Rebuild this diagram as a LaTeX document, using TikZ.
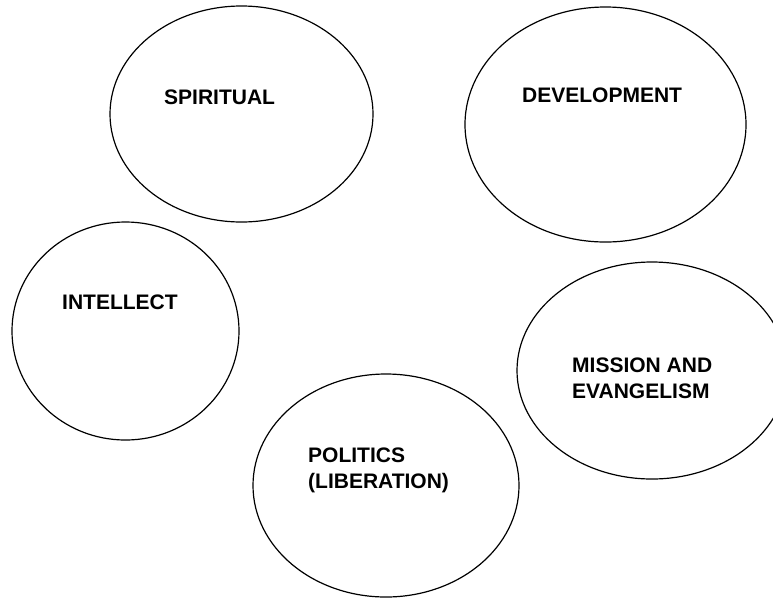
\documentclass[tikz,border=0pt]{standalone}
\usepackage{fontspec}
\setmainfont{Liberation Sans}
\usetikzlibrary{shapes.geometric}
\begin{document}
\begin{tikzpicture}[x=1pt,y=-1pt,
  bubble/.style={draw=black,line width=1.2pt,ellipse,inner sep=0pt},
  lab/.style={anchor=base west,inner sep=0pt,align=left,font=\bfseries\fontsize{21}{26}\selectfont}]
\useasboundingbox (0,0) rectangle (773,598);
\node[bubble,minimum width=263pt,minimum height=216pt] (spi) at (241.5,114) {};
\node[bubble,minimum width=281pt,minimum height=235pt] (dev) at (605.5,124.5) {};
\node[bubble,minimum width=227pt,minimum height=218pt] (int) at (125.5,331) {};
\node[bubble,minimum width=270pt,minimum height=217pt] (mis) at (652,370.5) {};
\node[bubble,minimum width=266pt,minimum height=223pt] (pol) at (386,485.5) {};
\node[lab] (tspi) at (164,104) {SPIRITUAL};
\node[lab] (tdev) at (522,102) {DEVELOPMENT};
\node[lab] (tint) at (62,309) {INTELLECT};
\node[lab] (tmis) at (572,398) {MISSION AND\\EVANGELISM};
\node[lab] (tpol) at (308,488) {POLITICS\\(LIBERATION)};
\end{tikzpicture}
\end{document}
